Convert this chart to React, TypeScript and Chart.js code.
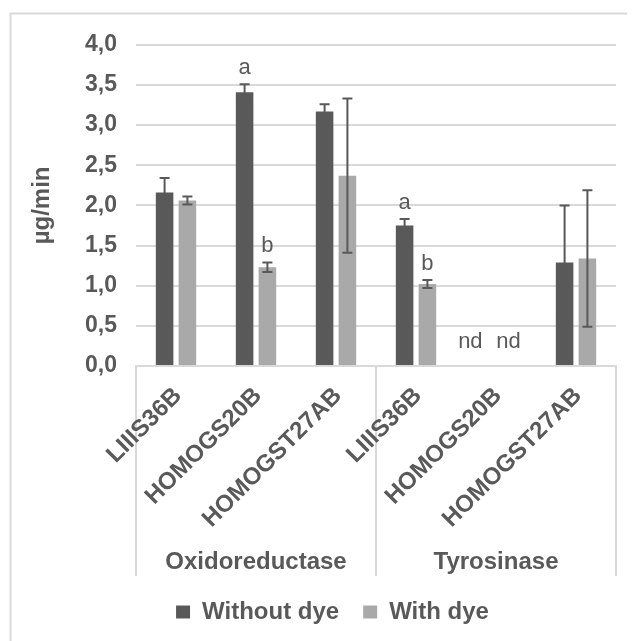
import { useEffect, useRef } from 'react';
import { Chart, registerables } from 'chart.js';

Chart.register(...registerables);

// Strains tested for each enzyme (three per enzyme group)
const strains = ['LIIIS36B', 'HOMOGS20B', 'HOMOGST27AB', 'LIIIS36B', 'HOMOGS20B', 'HOMOGST27AB'];
const enzymes = ['Oxidoreductase', 'Tyrosinase'];
const strainsPerEnzyme = 3;

// Activity in µg/min; null = not detected (nd)
const withoutDye = [2.16, 3.41, 3.17, 1.75, null, 1.29];
const withoutDyeSd = [0.18, 0.1, 0.09, 0.08, null, 0.71];
const withoutDyeLetters = ['', 'a', '', 'a', '', ''];

const withDye = [2.06, 1.23, 2.37, 1.02, null, 1.34];
const withDyeSd = [0.05, 0.06, 0.96, 0.05, null, 0.85];
const withDyeLetters = ['', 'b', '', 'b', '', ''];

const yMin = 0;
const yMax = 4;
const yStep = 0.5;

const FONT = '"Liberation Sans", Arial, sans-serif';
const TEXT = '#595959';
const GRID = '#d9d9d9';

function groupBoundary(chart: any, k: number) {
  const xs = chart.scales.x;
  const half = (xs.getPixelForTick(1) - xs.getPixelForTick(0)) / 2;
  return k >= strains.length ? xs.getPixelForTick(strains.length - 1) + half : xs.getPixelForTick(k) - half;
}

// Frame around the whole chart and enzyme group separators (under the labels)
const framePlugin = {
  id: 'frame',
  beforeDraw(chart: any) {
    const { ctx, width, height, chartArea } = chart;
    const xs = chart.scales.x;
    ctx.save();
    ctx.strokeStyle = GRID;
    ctx.lineWidth = 2;
    ctx.strokeRect(1.5, 1.5, width - 3, height - 3);
    for (let g = 0; g <= enzymes.length; g++) {
      const x = groupBoundary(chart, g * strainsPerEnzyme);
      ctx.beginPath();
      ctx.moveTo(x, chartArea.bottom);
      ctx.lineTo(x, xs.bottom);
      ctx.stroke();
    }
    ctx.restore();
  },
};

// Enzyme group names below the strain labels
const groupAxisPlugin = {
  id: 'groupAxis',
  afterDraw(chart: any) {
    const { ctx } = chart;
    const xs = chart.scales.x;
    ctx.save();
    ctx.fillStyle = TEXT;
    ctx.font = `bold 24px ${FONT}`;
    ctx.textAlign = 'center';
    ctx.textBaseline = 'alphabetic';
    enzymes.forEach((name, g) => {
      const x0 = groupBoundary(chart, g * strainsPerEnzyme);
      const x1 = groupBoundary(chart, (g + 1) * strainsPerEnzyme);
      ctx.fillText(name, (x0 + x1) / 2, xs.bottom - 7);
    });
    ctx.restore();
  },
};

// Standard deviation whiskers, significance letters and "nd" marks
const barNotesPlugin = {
  id: 'barNotes',
  afterDatasetsDraw(chart: any) {
    const { ctx } = chart;
    const ys = chart.scales.y;
    chart.data.datasets.forEach((ds: any, di: number) => {
      const meta = chart.getDatasetMeta(di);
      meta.data.forEach((bar: any, i: number) => {
        const v = ds.data[i];
        const x = bar.x;
        ctx.save();
        if (v == null) {
          ctx.fillStyle = TEXT;
          ctx.font = `22px ${FONT}`;
          ctx.textBaseline = 'alphabetic';
          if (di === 0) {
            ctx.textAlign = 'right';
            ctx.fillText('nd', x - 2, ys.getPixelForValue(0) - 18);
          } else {
            ctx.textAlign = 'center';
            ctx.fillText('nd', x + 1, ys.getPixelForValue(0) - 18);
          }
          ctx.restore();
          return;
        }
        const sd = ds.sd[i] || 0;
        const top = ys.getPixelForValue(v + sd);
        const bottom = ys.getPixelForValue(v - sd);
        ctx.strokeStyle = TEXT;
        ctx.lineWidth = 2;
        ctx.beginPath();
        ctx.moveTo(x, top);
        ctx.lineTo(x, bottom);
        ctx.moveTo(x - 5, top);
        ctx.lineTo(x + 5, top);
        ctx.moveTo(x - 5, bottom);
        ctx.lineTo(x + 5, bottom);
        ctx.stroke();
        const letter = ds.letters[i];
        if (letter) {
          ctx.fillStyle = TEXT;
          ctx.font = `22px ${FONT}`;
          ctx.textAlign = 'center';
          ctx.textBaseline = 'alphabetic';
          ctx.fillText(letter, x, top - 10);
        }
        ctx.restore();
      });
    });
  },
};

export default function App() {
  const canvasRef = useRef<HTMLCanvasElement | null>(null);

  useEffect(() => {
    const canvas = canvasRef.current;
    if (!canvas) return;
    const chart = new Chart(canvas, {
      type: 'bar',
      data: {
        labels: strains,
        datasets: [
          {
            label: 'Without dye',
            data: withoutDye,
            backgroundColor: '#595959',
            sd: withoutDyeSd,
            letters: withoutDyeLetters,
            categoryPercentage: 0.57,
            barPercentage: 0.77,
          } as any,
          {
            label: 'With dye',
            data: withDye,
            backgroundColor: '#a9a9a9',
            sd: withDyeSd,
            letters: withDyeLetters,
            categoryPercentage: 0.57,
            barPercentage: 0.77,
          } as any,
        ],
      },
      options: {
        responsive: false,
        animation: false,
        devicePixelRatio: 1,
        layout: { padding: { top: 31, right: 39, bottom: 18, left: 40 } },
        plugins: {
          tooltip: { enabled: false },
          legend: {
            position: 'bottom',
            labels: {
              boxWidth: 14,
              boxHeight: 13,
              padding: 24,
              color: TEXT,
              font: { family: FONT, size: 24, weight: 'bold' },
            },
          },
        },
        scales: {
          x: {
            grid: { display: false, drawTicks: false },
            border: { display: true, color: GRID, width: 2 },
            ticks: {
              autoSkip: false,
              minRotation: 45,
              maxRotation: 45,
              padding: 16,
              labelOffset: 2,
              color: TEXT,
              font: { family: FONT, size: 24, weight: 'bold' },
            },
            afterFit: (scale: any) => {
              scale.height = 210;
            },
          },
          y: {
            min: yMin,
            max: yMax,
            grid: { color: GRID, lineWidth: 2, drawTicks: false },
            border: { display: false },
            ticks: {
              stepSize: yStep,
              padding: 19,
              color: TEXT,
              font: { family: FONT, size: 23, weight: 'bold' },
              callback: (v: any) => Number(v).toFixed(1).replace('.', ','),
            },
            title: {
              display: true,
              text: 'µg/min',
              color: TEXT,
              font: { family: FONT, size: 24, weight: 'bold' },
              padding: { top: -21, bottom: 0 },
            },
            afterFit: (scale: any) => {
              scale.width = 87;
            },
          },
        },
      } as any,
      plugins: [framePlugin, groupAxisPlugin, barNotesPlugin],
    });
    return () => chart.destroy();
  }, []);

  return (
    <div style={{ position: 'relative', width: 627, height: 633, overflow: 'hidden' }}>
      <canvas
        ref={canvasRef}
        width={646}
        height={640}
        style={{ position: 'absolute', left: 1, top: 4 }}
      />
    </div>
  );
}
